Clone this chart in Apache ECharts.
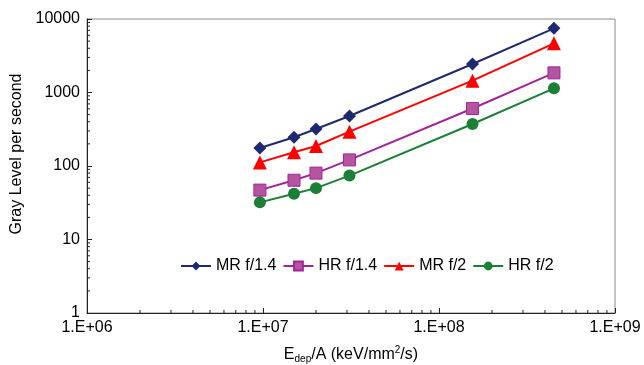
<!DOCTYPE html>
<html>
<head>
<meta charset="utf-8">
<script src="https://cdn.jsdelivr.net/npm/echarts@6/dist/echarts.min.js"></script>
<style>
  html, body { margin: 0; padding: 0; background: #fff; }
  #chart { width: 644px; height: 365px; }
</style>
</head>
<body>
<div id="chart"></div>
<script>
// energy deposited per area (keV/mm2/s)
const xValues = [9.6e6, 1.5e7, 2.0e7, 3.1e7, 1.55e8, 4.5e8];
const mrF14 = [176, 246, 319, 479, 2443, 7470];
const hrF14 = [47, 64, 80, 121, 605, 1850];
const mrF2 = [112, 154, 187, 293, 1448, 4670];
const hrF2 = [32, 42, 50, 74, 373, 1140];
const xTickLabels = ['1.E+06', '1.E+07', '1.E+08', '1.E+09'];
const yTickLabels = ['1', '10', '100', '1000', '10000'];
// minor tick multipliers inside each decade
const minorSteps = [2, 3, 4, 5, 6, 7, 8, 9];
const xDecades = [1e6, 1e7, 1e8];
const yDecades = [1, 10, 100, 1000];

const font = 'Liberation Sans, Arial, sans-serif';

function pairs(ys) {
  return xValues.map((x, i) => [x, ys[i]]);
}

const xMinor = [];
xDecades.forEach(d => minorSteps.forEach(s => xMinor.push([d * s, 1])));
const yMinor = [];
yDecades.forEach(d => minorSteps.forEach(s => yMinor.push([1e6, d * s])));

function tickSeries(data, dx, dy) {
  return {
    type: 'custom',
    silent: true,
    clip: false,
    z: 5,
    data: data,
    renderItem: function (params, api) {
      const p = api.coord([api.value(0), api.value(1)]);
      return {
        type: 'line',
        shape: { x1: p[0], y1: p[1], x2: p[0] + dx, y2: p[1] + dy },
        style: { stroke: '#222', lineWidth: 1 }
      };
    }
  };
}

function lineSeries(name, ys, color, symbol, size, fill) {
  return {
    name: name,
    type: 'line',
    data: pairs(ys),
    symbol: symbol,
    symbolSize: size,
    lineStyle: { color: color, width: 2 },
    itemStyle: { color: fill || color, borderColor: color, borderWidth: fill ? 1 : 0 },
    z: 10
  };
}

const chart = echarts.init(document.getElementById('chart'));
chart.setOption({
  animation: false,
  grid: {
    left: 87, right: 29, top: 19, bottom: 52,
    outerBoundsMode: 'none', // keep the plot where it is, labels may reach the edge
    show: true,
    borderColor: '#8a8a8a',
    borderWidth: 1
  },
  legend: {
    data: ['MR f/1.4', 'HR f/1.4', 'MR f/2', 'HR f/2'],
    left: 180,
    top: 258,
    padding: 0,
    itemWidth: 30,
    itemHeight: 11,
    itemGap: 6,
    textStyle: { fontFamily: font, fontSize: 16, color: '#000' }
  },
  xAxis: {
    type: 'log',
    logBase: 10,
    min: 1e6,
    max: 1e9,
    name: 'E{sub|dep}/A (keV/mm{sup|2}/s)',
    nameLocation: 'middle',
    nameGap: 32,
    nameTextStyle: {
      fontFamily: font, fontSize: 16, color: '#000',
      rich: {
        sub: { fontFamily: font, fontSize: 10, color: '#000', padding: [9, 0, 0, 0] },
        sup: { fontFamily: font, fontSize: 10, color: '#000', padding: [0, 0, 8, 0] }
      }
    },
    axisLine: { lineStyle: { color: '#222', width: 1 } },
    axisTick: { inside: true, length: 5, lineStyle: { color: '#222' } },
    splitLine: { show: false },
    axisLabel: {
      fontFamily: font, fontSize: 16, color: '#000', margin: 7,
      formatter: function (v) {
        return xTickLabels[Math.round(Math.log10(v)) - 6];
      }
    }
  },
  yAxis: {
    type: 'log',
    logBase: 10,
    min: 1,
    max: 10000,
    name: 'Gray Level per second',
    nameLocation: 'middle',
    nameGap: 60,
    nameTextStyle: { fontFamily: font, fontSize: 16, color: '#000', padding: [0, 0, 0, 24] },
    axisLine: { lineStyle: { color: '#222', width: 1 } },
    axisTick: { inside: true, length: 5, lineStyle: { color: '#222' } },
    splitLine: { show: false },
    axisLabel: {
      fontFamily: font, fontSize: 16, color: '#000', margin: 7,
      formatter: function (v) {
        return yTickLabels[Math.round(Math.log10(v))];
      }
    }
  },
  series: [
    lineSeries('MR f/1.4', mrF14, '#1f2a6e', 'diamond', 13),
    lineSeries('HR f/1.4', hrF14, '#a3239a', 'rect', 12, '#b5559f'),
    lineSeries('MR f/2', mrF2, '#ff0000', 'triangle', 14),
    lineSeries('HR f/2', hrF2, '#1b7f38', 'circle', 12),
    tickSeries(xMinor, 0, -3),
    tickSeries(yMinor, 3, 0)
  ]
});
</script>
</body>
</html>
